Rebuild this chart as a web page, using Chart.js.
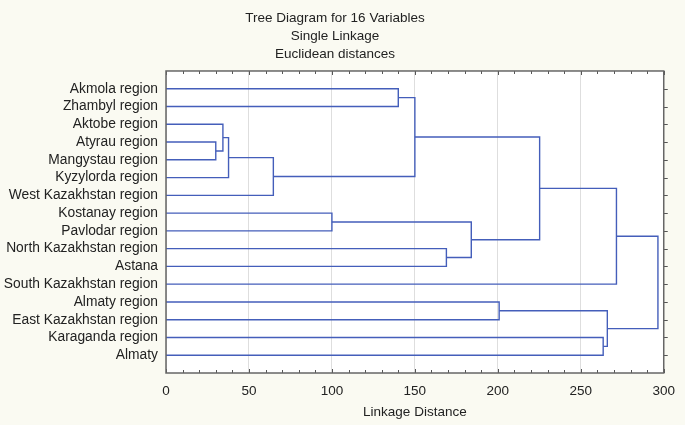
<!DOCTYPE html>
<html>
<head>
<meta charset="utf-8">
<script src="https://cdn.jsdelivr.net/npm/chart.js@4"></script>
<style>
  html, body { margin: 0; padding: 0; background: #fafaf2; }
  #wrap { width: 685px; height: 425px; }
</style>
</head>
<body>
<div id="wrap"><canvas id="tree"></canvas></div>
<script>
// Leaves, top to bottom
const leafLabels = [
    'Akmola region', 'Zhambyl region', 'Aktobe region', 'Atyrau region',
    'Mangystau region', 'Kyzylorda region', 'West Kazakhstan region',
    'Kostanay region', 'Pavlodar region', 'North Kazakhstan region', 'Astana',
    'South Kazakhstan region', 'Almaty region', 'East Kazakhstan region',
    'Karaganda region', 'Almaty'
];

// Merge steps: cluster ids 0-15 are leaves, merge k creates cluster 16 + k
const mergeLeft  = [3, 2, 5, 6, 7, 0, 19, 9, 20, 12, 22, 14, 25, 26, 29];
const mergeRight = [4, 16, 17, 18, 8, 1, 21, 10, 23, 13, 24, 15, 27, 11, 28];
const mergeDist  = [30, 34.3, 37.7, 64.7, 100, 140, 150, 169, 184, 200.8, 225.2, 263.5, 266, 271.5, 296.5];

const xTicks = [0, 50, 100, 150, 200, 250, 300];

const lineColor = 'rgb(68, 94, 186)';

// node positions (row) and heights (distance)
const nodeRow = leafLabels.map((_, i) => i);
const nodeHeight = leafLabels.map(() => 0);
const datasets = [];
mergeDist.forEach((d, k) => {
    const a = mergeLeft[k], b = mergeRight[k];
    nodeRow.push((nodeRow[a] + nodeRow[b]) / 2);
    nodeHeight.push(d);
    datasets.push({
        data: [
            { x: nodeHeight[a], y: nodeRow[a] },
            { x: d, y: nodeRow[a] },
            { x: d, y: nodeRow[b] },
            { x: nodeHeight[b], y: nodeRow[b] }
        ],
        showLine: true,
        borderColor: lineColor,
        borderWidth: 1.4,
        pointRadius: 0,
        fill: false,
        tension: 0
    });
});

const frame = {
    id: 'frame',
    beforeDraw(chart) {
        const { ctx, chartArea: a } = chart;
        ctx.save();
        ctx.fillStyle = '#fafaf2';
        ctx.fillRect(0, 0, chart.width, chart.height);
        ctx.fillStyle = '#ffffff';
        ctx.fillRect(a.left, a.top, a.right - a.left, a.bottom - a.top);
        ctx.restore();
    },
    afterDraw(chart) {
        const { ctx, chartArea: a, scales } = chart;
        ctx.save();
        ctx.strokeStyle = '#555555';
        ctx.lineWidth = 1;
        ctx.beginPath();
        // minor ticks every 10 on top and bottom, pointing inside
        for (let v = 0; v <= 300; v += 10) {
            const x = Math.round(scales.x.getPixelForValue(v)) + 0.5;
            const len = v % 50 === 0 ? 4 : 3;
            ctx.moveTo(x, a.top); ctx.lineTo(x, a.top + len);
            ctx.moveTo(x, a.bottom); ctx.lineTo(x, a.bottom - len);
        }
        // right ticks at each leaf, pointing outside
        leafLabels.forEach((_, i) => {
            const y = Math.round(scales.y.getPixelForValue(i)) + 0.5;
            ctx.moveTo(a.right, y); ctx.lineTo(a.right + 4, y);
        });
        ctx.stroke();
        ctx.lineWidth = 1.5;
        ctx.strokeStyle = '#666666';
        ctx.strokeRect(a.left, a.top, a.right - a.left, a.bottom - a.top);
        ctx.restore();
    }
};

const font = { family: "'Liberation Sans', Arial, sans-serif", size: 13.8, weight: 'normal' };

new Chart(document.getElementById('tree'), {
    type: 'scatter',
    data: { datasets },
    options: {
        responsive: true,
        maintainAspectRatio: false,
        animation: false,
        layout: { padding: { top: 0, right: 15, bottom: 0, left: 0 } },
        plugins: {
            legend: { display: false },
            tooltip: { enabled: false },
            title: {
                display: true,
                text: ['Tree Diagram for 16 Variables', 'Single Linkage', 'Euclidean distances'],
                color: '#222222',
                font: { ...font, size: 13.5, lineHeight: 1.333 },
                padding: { top: 9, bottom: 8 }
            }
        },
        scales: {
            x: {
                type: 'linear',
                min: 0,
                max: 300,
                afterBuildTicks: s => { s.ticks = xTicks.map(v => ({ value: v })); },
                afterFit: s => { s.height = 52; },
                ticks: { color: '#222222', font: { ...font, size: 13.5 }, padding: 10 },
                grid: { color: '#dedede', drawTicks: false },
                border: { display: false },
                title: {
                    display: true,
                    text: 'Linkage Distance',
                    color: '#222222',
                    font: { ...font, size: 13.5 },
                    padding: { top: 0, bottom: 5 }
                }
            },
            y: {
                type: 'linear',
                min: -1,
                max: 16,
                reverse: true,
                afterBuildTicks: s => { s.ticks = leafLabels.map((_, i) => ({ value: i })); },
                afterFit: s => { s.width = 166; },
                ticks: {
                    color: '#222222',
                    font,
                    padding: 8,
                    callback: v => leafLabels[v] ?? ''
                },
                grid: { display: false, drawTicks: false },
                border: { display: false }
            }
        }
    },
    plugins: [frame]
});
</script>
</body>
</html>
